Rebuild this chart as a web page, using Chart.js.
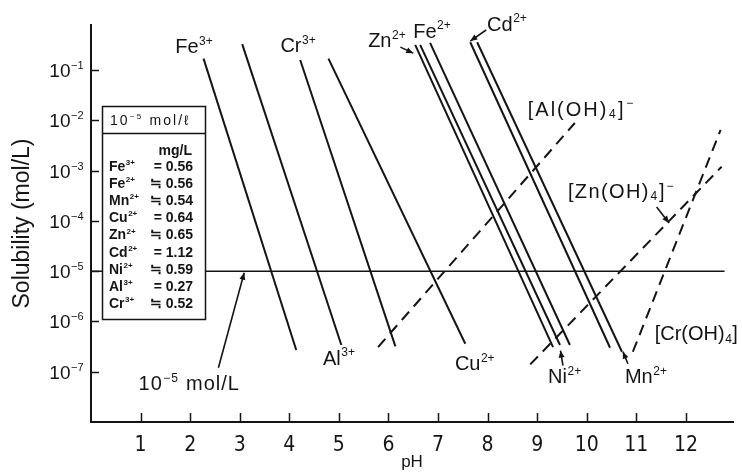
<!DOCTYPE html>
<html lang="en">
<head>
<meta charset="UTF-8">
<title>Solubility of metal hydroxides vs pH</title>
<script src="https://cdn.jsdelivr.net/npm/chart.js"></script>
<style>
  html, body { margin: 0; padding: 0; background: #fff; }
  .chart-box { position: relative; width: 742px; height: 475px; }
</style>
</head>
<body>
<div class="chart-box"><canvas id="solubilityChart"></canvas></div>
<script>
// Hydroxide precipitation lines, start (upper left) and end (lower right)
const ions     = ['Fe3+', 'Al3+', 'Cr3+', 'Cu2+', 'Zn2+', 'Fe2+', 'Ni2+', 'Cd2+', 'Mn2+'];
const phStart  = [2.27, 3.05, 4.22, 4.79, 6.54, 6.64, 6.84, 7.65, 7.79];
const solStart = [1.7e-1, 3.3e-1, 1.6e-1, 1.7e-1, 3.2e-1, 3.2e-1, 3.5e-1, 3.6e-1, 3.6e-1];
const phEnd    = [4.14, 5.05, 6.14, 7.55, 9.32, 9.46, 9.66, 10.47, 10.71];
const solEnd   = [2.7e-7, 3.4e-7, 3.2e-7, 3.6e-7, 3.1e-7, 3.4e-7, 3.4e-7, 3.0e-7, 2.5e-7];

// Hydroxo complexes (dashed), redissolving at high pH
const complexes = ['Al(OH)4-', 'Zn(OH)4-', 'Cr(OH)4-'];
const cxPhFrom  = [5.79, 8.86, 10.93];
const cxSolFrom = [3.1e-7, 1.4e-7, 2.5e-7];
const cxPhTo    = [9.76, 12.72, 12.70];
const cxSolTo   = [8.9e-3, 1.2e-3, 6.5e-3];

// 10^-5 mol/L reference level
const limitLevel = 1e-5;
const limitPh = [0, 12.78];

// inset table: 10^-5 mol/L expressed in mg/L
const insetIons   = ['Fe^{3+}', 'Fe^{2+}', 'Mn^{2+}', 'Cu^{2+}', 'Zn^{2+}', 'Cd^{2+}', 'Ni^{2+}', 'Al^{3+}', 'Cr^{3+}'];
const insetMg     = ['0.56', '0.56', '0.54', '0.64', '0.65', '1.12', '0.59', '0.27', '0.52'];
const insetApprox = [false, true, true, false, true, false, true, false, true];

const phTicks  = [1, 2, 3, 4, 5, 6, 7, 8, 9, 10, 11, 12];
const solTicks = [1e-1, 1e-2, 1e-3, 1e-4, 1e-5, 1e-6, 1e-7];

const INK = '#141414';
const FONT = '"Liberation Sans", Arial, sans-serif';
const NARROW = '"Liberation Sans Narrow", "DejaVu Sans Condensed", "Liberation Sans", sans-serif';

// labels drawn on the plot, anchored in pH / log10(mol/L)
const notes = [
  { t: 'Fe^{3+}', ph: 1.70, lg: -0.52 },
  { t: 'Cr^{3+}', ph: 3.82, lg: -0.50 },
  { t: 'Zn^{2+}', ph: 5.59, lg: -0.40 },
  { t: 'Fe^{2+}', ph: 6.50, lg: -0.21 },
  { t: 'Cd^{2+}', ph: 7.99, lg: -0.07 },
  { t: '[Al(OH)_{4}]^{−}', ph: 8.81, lg: -1.76, sp: 2 },
  { t: '[Zn(OH)_{4}]^{−}', ph: 9.62, lg: -3.40, sp: 1.4 },
  { t: '[Cr(OH)_{4}]', ph: 11.37, lg: -6.23, sp: 0 },
  { t: 'Ni^{2+}', ph: 9.22, lg: -7.08 },
  { t: 'Mn^{2+}', ph: 10.77, lg: -7.08 },
  { t: 'Cu^{2+}', ph: 7.34, lg: -6.82 },
  { t: 'Al^{3+}', ph: 4.68, lg: -6.72 },
  { t: '10^{−5} mol/L', ph: 0.96, lg: -7.22, sp: 1 }
];

// pointer arrows: [fromPh, fromLog, toPh, toLog]
const arrows = [
  [2.57, -6.92, 3.09, -5.03],
  [6.24, -0.54, 6.50, -0.66],
  [7.97, -0.20, 7.65, -0.42],
  [11.41, -3.72, 11.66, -4.04],
  [9.52, -6.88, 9.47, -6.58],
  [10.83, -6.84, 10.73, -6.60]
];

function lineSet(x0, y0, x1, y1, dashed) {
  return {
    data: [{ x: x0, y: y0 }, { x: x1, y: y1 }],
    showLine: true,
    borderColor: INK,
    borderWidth: 2,
    borderDash: dashed ? [11, 7] : [],
    pointRadius: 0,
    fill: false
  };
}

const datasets = [];
ions.forEach((name, i) => {
  datasets.push(Object.assign(lineSet(phStart[i], solStart[i], phEnd[i], solEnd[i], false), { label: name }));
});
complexes.forEach((name, i) => {
  datasets.push(Object.assign(lineSet(cxPhFrom[i], cxSolFrom[i], cxPhTo[i], cxSolTo[i], true), { label: name }));
});
datasets.push(Object.assign(lineSet(limitPh[0], limitLevel, limitPh[1], limitLevel, false),
  { label: '1e-5 mol/L', borderWidth: 1.3 }));

// text with ^{sup} and _{sub} parts
function drawRich(c, str, x, cy, size, align, opts) {
  opts = opts || {};
  const weight = opts.bold ? 'bold ' : '';
  const spacing = (opts.sp || 0) + 'px';
  const parts = str.split(/(\^\{[^}]*\}|_\{[^}]*\})/).filter(s => s.length);
  const small = Math.round(size * 0.6);
  const segs = parts.map(p => {
    if (p.startsWith('^{')) return { s: p.slice(2, -1), k: 'sup' };
    if (p.startsWith('_{')) return { s: p.slice(2, -1), k: 'sub' };
    return { s: p, k: 'base' };
  });
  const fontOf = g => weight + (g.k === 'base' ? size : small) + 'px ' + FONT;
  c.letterSpacing = spacing;
  let total = 0;
  segs.forEach(g => {
    c.font = fontOf(g);
    g.w = c.measureText(g.s).width + (g.k === 'base' ? 0 : 1);
    total += g.w;
  });
  let px = align === 'right' ? x - total : x;
  const base = cy + size * 0.36;
  c.textAlign = 'left';
  c.textBaseline = 'alphabetic';
  segs.forEach(g => {
    c.font = fontOf(g);
    let by = base;
    if (g.k === 'sup') by = base - size * 0.42;
    if (g.k === 'sub') by = base + size * 0.12;
    c.fillText(g.s, px + (g.k === 'base' ? 0 : 0.5), by);
    px += g.w;
  });
  c.letterSpacing = '0px';
}

function arrowHead(c, x0, y0, x1, y1) {
  const a = Math.atan2(y1 - y0, x1 - x0);
  const L = 7, W = 3;
  c.beginPath();
  c.moveTo(x1, y1);
  c.lineTo(x1 - L * Math.cos(a) + W * Math.sin(a), y1 - L * Math.sin(a) - W * Math.cos(a));
  c.lineTo(x1 - L * Math.cos(a) - W * Math.sin(a), y1 - L * Math.sin(a) + W * Math.cos(a));
  c.closePath();
  c.fill();
}

const figureExtras = {
  id: 'figureExtras',
  afterDraw(chart) {
    const c = chart.ctx;
    const xs = chart.scales.x, ys = chart.scales.y;
    const area = chart.chartArea;
    const px = v => xs.getPixelForValue(v);
    const py = lg => ys.getPixelForValue(Math.pow(10, lg));
    c.save();
    c.strokeStyle = INK;
    c.fillStyle = INK;

    // inward tick marks
    c.lineWidth = 1.5;
    c.beginPath();
    phTicks.forEach(v => {
      const x = Math.round(px(v)) + 0.5;
      c.moveTo(x, area.bottom);
      c.lineTo(x, area.bottom - 9);
    });
    solTicks.forEach(v => {
      const y = Math.round(ys.getPixelForValue(v)) + 0.5;
      c.moveTo(area.left, y);
      c.lineTo(area.left + 8, y);
    });
    c.stroke();

    // y tick labels as 10 with a raised exponent
    solTicks.forEach(v => {
      const y = ys.getPixelForValue(v);
      const e = Math.round(Math.log10(v));
      drawRich(c, '10^{−' + Math.abs(e) + '}', 84, y, 19, 'right');
    });

    // inset table
    c.lineWidth = 1.5;
    c.fillStyle = '#fff';
    c.fillRect(103, 107, 102, 212);
    c.fillStyle = INK;
    c.strokeRect(102.5, 106.5, 103, 213);
    c.beginPath();
    c.moveTo(102.5, 133.5);
    c.lineTo(205.5, 133.5);
    c.stroke();
    drawRich(c, '10^{−5} mol/ℓ', 110, 120, 14, 'left', { sp: 2 });
    drawRich(c, 'mg/L', 192, 150, 14, 'right', { bold: true });
    insetIons.forEach((name, i) => {
      const y = 166 + i * 17.1;
      drawRich(c, name, 109, y, 14, 'left', { bold: true });
      drawRich(c, (insetApprox[i] ? '≒ ' : '= ') + insetMg[i], 193, y, 14, 'right', { bold: true });
    });

    // curve labels
    notes.forEach(n => drawRich(c, n.t, px(n.ph), py(n.lg), 20, 'left', { sp: n.sp || 0 }));

    // pointer arrows
    c.lineWidth = 1.6;
    arrows.forEach(a => {
      const x0 = px(a[0]), y0 = py(a[1]), x1 = px(a[2]), y1 = py(a[3]);
      c.beginPath();
      c.moveTo(x0, y0);
      c.lineTo(x1, y1);
      c.stroke();
      arrowHead(c, x0, y0, x1, y1);
    });
    c.restore();
  }
};

new Chart(document.getElementById('solubilityChart'), {
  type: 'scatter',
  data: { datasets },
  options: {
    responsive: true,
    maintainAspectRatio: false,
    animation: false,
    layout: { padding: { top: 25, right: 9, left: 0, bottom: 0 } },
    plugins: { legend: { display: false }, tooltip: { enabled: false } },
    scales: {
      x: {
        type: 'linear',
        min: 0,
        max: 12.95,
        afterBuildTicks: s => { s.ticks = phTicks.map(v => ({ value: v })); },
        afterFit: s => { s.height = 53; },
        grid: { display: false },
        border: { display: true, color: INK, width: 2 },
        ticks: { color: INK, font: { family: NARROW, size: 21 }, padding: 3, maxRotation: 0, autoSkip: false },
        title: { display: true, text: 'pH', color: INK, font: { family: FONT, size: 17 }, padding: { top: 0, bottom: 2 } }
      },
      y: {
        type: 'logarithmic',
        min: 1e-8,
        max: Math.pow(10, -0.1),
        afterBuildTicks: s => { s.ticks = solTicks.map(v => ({ value: v })); },
        afterFit: s => { s.width = 91; },
        grid: { display: false },
        border: { display: true, color: INK, width: 2 },
        ticks: { display: false },
        title: { display: true, text: 'Solubility (mol/L)', color: INK, font: { family: FONT, size: 23 }, padding: { top: 9, bottom: 0 } }
      }
    }
  },
  plugins: [figureExtras]
});
</script>
</body>
</html>
